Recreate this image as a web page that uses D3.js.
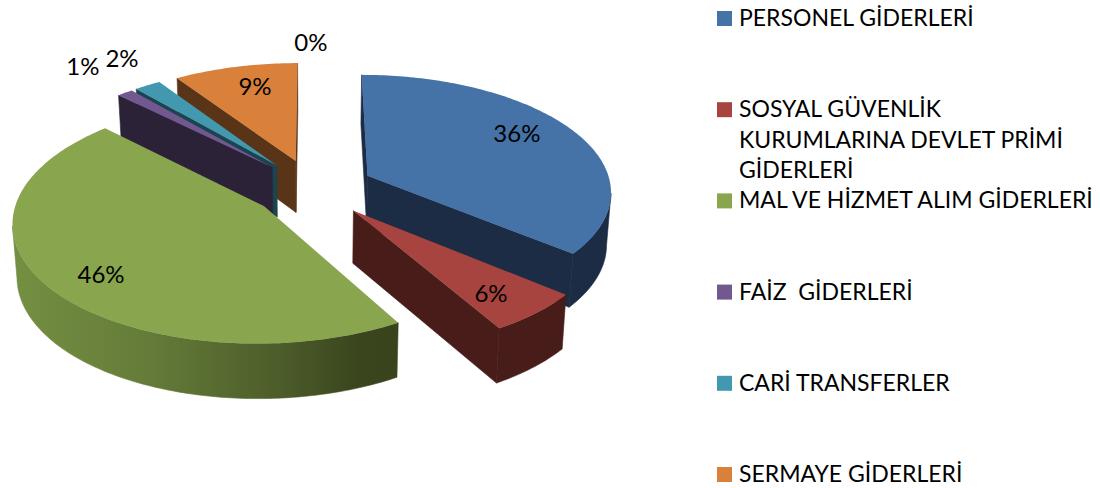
<!DOCTYPE html>
<html>
<head>
<meta charset="utf-8">
<style>
  html, body { margin: 0; padding: 0; background: #fff; }
  svg { display: block; }
  text { font-family: Lato, "Open Sans", sans-serif; fill: #000; white-space: pre; }
</style>
</head>
<body>
<svg width="1101" height="488"></svg>
<script src="https://cdn.jsdelivr.net/npm/d3@7"></script>
<script>
// Chart data
const categories = ["PERSONEL GİDERLERİ", "SOSYAL GÜVENLİK KURUMLARINA DEVLET PRİMİ GİDERLERİ",
    "MAL VE HİZMET ALIM GİDERLERİ", "FAİZ  GİDERLERİ", "CARİ TRANSFERLER", "SERMAYE GİDERLERİ"];
const values = [36, 5.6, 45.8, 1.2, 2.0, 9.4, 0];
const topColors = ["#4572a7", "#a8443f", "#89a54e", "#71588f", "#4198af", "#d9813b"];
const sideColors = ["#1b2c44", "#481c19", "#3a441c", "#2c2238", "#1b4350", "#5a3417"];

// Where each percent label sits on the pie plane, in radii
const labelPlaneX = [0.886, 0.657, -0.796, -1.08, -0.905, -0.266, -0.01];
const labelPlaneY = [-0.498, 0.819, 0.687, -1.194, -1.286, -0.974, -1.474];
// Back to front
const drawOrder = [5, 4, 3, 0, 2, 1];

const width = 1101;
const height = 488;
const svg = d3.select("svg");

// Plane to screen
const R = 244;
const xScale = d3.scaleLinear().domain([-1, 1]).range([313 - R, 313 + R]);
const yScale = d3.scaleLinear().domain([-1, 1]).range([188 - 116, 188 + 116]);
const perspective = 0.1216;
const explode = 0.25;
const depth = 52;

function project(X, Y) {
    const s = 1 / (1 - perspective * Y);
    const cx = xScale(0);
    const cy = yScale(0);
    return [cx + (xScale(X) - cx) * s, cy + (yScale(Y) - cy) * s];
}

// Same point on the underside of the slice
function drop(X, Y) {
    const p = project(X, Y);
    const cx = xScale(0);
    return [cx + (p[0] - cx) * 0.985, p[1] + depth * (1 + 0.05 * Y)];
}

const line = d3.line().curve(d3.curveLinearClosed);

const pie = d3.pie().sort(null).startAngle(0).endAngle(2 * Math.PI);
const arcs = pie(values);

// Green rim fades from left to right
const grad = svg.append("defs").append("linearGradient")
    .attr("id", "greenRim")
    .attr("gradientUnits", "userSpaceOnUse")
    .attr("x1", 12).attr("x2", 397).attr("y1", 0).attr("y2", 0);
grad.append("stop").attr("offset", "0%").attr("stop-color", "#758f42");
grad.append("stop").attr("offset", "35%").attr("stop-color", "#657c39");
grad.append("stop").attr("offset", "70%").attr("stop-color", "#4c5c2a");
grad.append("stop").attr("offset", "90%").attr("stop-color", "#3a451d");
grad.append("stop").attr("offset", "100%").attr("stop-color", "#39441c");

const pieGroup = svg.append("g");

drawOrder.forEach(function(i) {
    const d = arcs[i];
    const mid = (d.startAngle + d.endAngle) / 2;
    const ox = explode * Math.sin(mid);
    const oy = -explode * Math.cos(mid);
    const pt = a => [ox + Math.sin(a), oy - Math.cos(a)];

    const g = pieGroup.append("g");
    const steps = Math.ceil((d.endAngle - d.startAngle) / (Math.PI / 180));
    const angles = d3.range(steps + 1).map(k => d.startAngle + (d.endAngle - d.startAngle) * k / steps);

    // Flat cut faces, only when they face the viewer
    const apexTop = project(ox, oy);
    const apexBot = drop(ox, oy);
    const startQuad = [apexTop, project(...pt(d.startAngle)), drop(...pt(d.startAngle)), apexBot];
    const endQuad = [apexTop, project(...pt(d.endAngle)), drop(...pt(d.endAngle)), apexBot];
    if (d3.polygonArea(startQuad) > 0) {
        g.append("path").attr("d", line(startQuad))
            .attr("fill", sideColors[i]).attr("stroke", sideColors[i]).attr("stroke-width", 0.6);
    }
    if (d3.polygonArea(endQuad) < 0) {
        g.append("path").attr("d", line(endQuad))
            .attr("fill", sideColors[i]).attr("stroke", sideColors[i]).attr("stroke-width", 0.6);
    }

    // Outer rim where the edge runs right to left on screen
    const visible = angles.filter(function(a, k) {
        const next = angles[Math.min(k + 1, steps)];
        const prev = angles[Math.max(k - 1, 0)];
        return project(...pt(next))[0] < project(...pt(prev))[0];
    });
    if (visible.length > 1) {
        const rim = visible.map(a => project(...pt(a)))
            .concat(visible.slice().reverse().map(a => drop(...pt(a))));
        const rimFill = i === 2 ? "url(#greenRim)" : sideColors[i];
        g.append("path").attr("d", line(rim))
            .attr("fill", rimFill).attr("stroke", rimFill).attr("stroke-width", 0.6);
    }

    // Top surface
    const top = [apexTop].concat(angles.map(a => project(...pt(a))));
    g.append("path").attr("d", line(top)).attr("fill", topColors[i]);
});

// Percent labels
arcs.forEach(function(d, i) {
    const p = project(labelPlaneX[i], labelPlaneY[i]);
    svg.append("text")
        .attr("x", p[0])
        .attr("y", p[1])
        .attr("dy", "0.35em")
        .attr("text-anchor", "middle")
        .attr("font-size", 24)
        .text(Math.round(d.value) + "%");
});

// Legend
const legendY = d3.scaleLinear().domain([0, 5]).range([18, 474]);
const wrapped = { 1: ["SOSYAL GÜVENLİK", "KURUMLARINA DEVLET PRİMİ", "GİDERLERİ"] };

categories.forEach(function(name, i) {
    const y = legendY(i);
    svg.append("rect")
        .attr("x", 717)
        .attr("y", y - 7)
        .attr("width", 15)
        .attr("height", 15)
        .attr("fill", topColors[i]);
    (wrapped[i] || [name]).forEach(function(t, k) {
        svg.append("text")
            .attr("x", 739)
            .attr("y", y + k * 30.5)
            .attr("dy", "0.35em")
            .attr("font-size", 23)
            .text(t);
    });
});
</script>
</body>
</html>
